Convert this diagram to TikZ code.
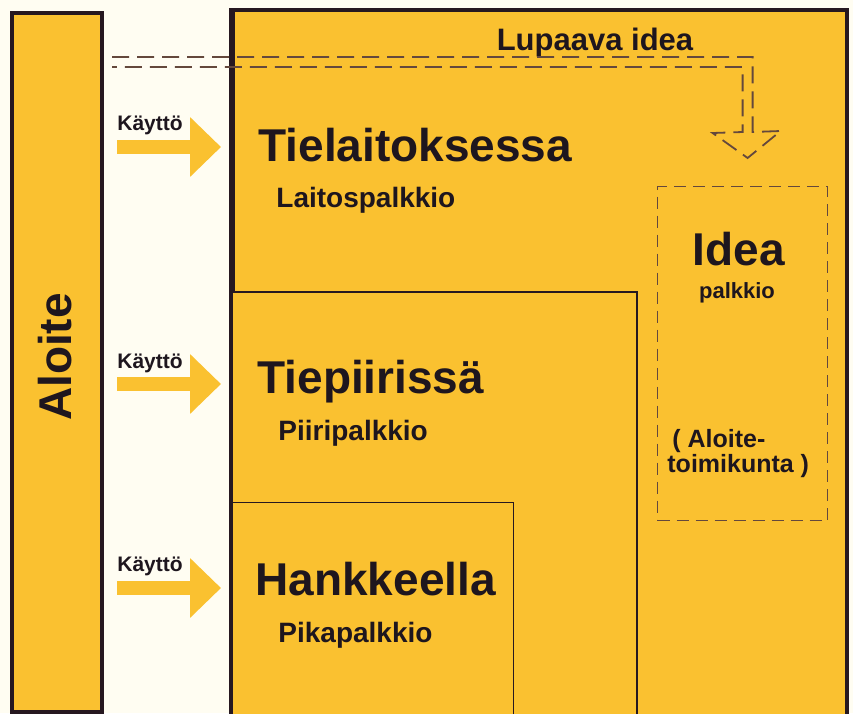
\documentclass[tikz,border=0pt]{standalone}
\usepackage{fontspec}
\setmainfont{Liberation Sans}
\usetikzlibrary{arrows.meta, calc}

% colori
\definecolor{giallo}{RGB}{250,193,48}
\definecolor{fondo}{RGB}{255,253,242}
\definecolor{bordo}{RGB}{38,24,32}
\definecolor{testo}{RGB}{30,22,30}
\definecolor{tratteggio}{RGB}{100,72,60}

\begin{document}
\begin{tikzpicture}[x=1pt, y=-1pt, >=latex, thick,
		riquadro/.style={draw=bordo, fill=giallo, anchor=north west, inner sep=0pt},
		titolo/.style={font=\bfseries\fontsize{46}{50}\selectfont, text=testo, anchor=base west, inner sep=0pt},
		premio/.style={font=\bfseries\fontsize{28}{31}\selectfont, text=testo, anchor=base west, inner sep=0pt},
		piccolo/.style={font=\bfseries\fontsize{22}{24}\selectfont, text=testo, inner sep=0pt},
		uso/.style={font=\bfseries\fontsize{21}{23}\selectfont, text=testo, anchor=base west, inner sep=0pt},
		freccia/.style={giallo, line width=14pt, -{Triangle[length=31pt, width=58pt]}},
		doppia/.style={tratteggio, line width=1.8pt, dash pattern=on 17pt off 8pt}]
			
			% --- Sfondo ---
			\clip (0,0) rectangle (853,713);
			\fill[fondo] (0,0) rectangle (853,713);
			
			% --- Riquadri ---
			\node[riquadro, line width=4pt, minimum width=90pt, minimum height=699pt] (aloite) at (10,11) {};
			\node[riquadro, line width=4pt, minimum width=614pt, minimum height=730pt] (laitos) at (231,8) {};
			\node[riquadro, line width=2pt, minimum width=405pt, minimum height=440pt] (piiri) at (231,291) {};
			\node[riquadro, line width=1.3pt, minimum width=282pt, minimum height=230pt] (hanke) at (231,502) {};
			\node[riquadro, draw=tratteggio, line width=1.2pt, dash pattern=on 12pt off 7pt,
				minimum width=170pt, minimum height=334pt] (idea) at (657,186) {};
			\draw[bordo, line width=4pt] (laitos.north west) -- (laitos.south west);
			
			% --- Etichette ---
			\node[titolo, anchor=center, rotate=90] (aloiteteksti) at (55,357) {Aloite};
			
			\node[titolo] (laitosnimi) at (258,161) {Tielaitoksessa};
			\node[premio] (laitospalkkio) at (276,207) {Laitospalkkio};
			\node[titolo] (piirinimi) at (257,393) {Tiepiirissä};
			\node[premio] (piiripalkkio) at (278,440) {Piiripalkkio};
			\node[titolo] (hankenimi) at (255,595) {Hankkeella};
			\node[premio] (pikapalkkio) at (278,642) {Pikapalkkio};
			
			\node[titolo, anchor=base] (ideanimi) at (739,265) {Idea};
			\node[piccolo, anchor=base] (ideapalkkio) at (737,298) {palkkio};
			\node[piccolo, font=\bfseries\fontsize{25}{27}\selectfont, anchor=base west] (toimikunta1) at (672,447) {( Aloite-};
			\node[piccolo, font=\bfseries\fontsize{25}{27}\selectfont, anchor=base west] (toimikunta2) at (667,472) {toimikunta )};
			
			\node[font=\bfseries\fontsize{31}{34}\selectfont, text=testo, anchor=base, inner sep=0pt] (lupaava) at (595,50) {Lupaava idea};
			
			% --- Frecce ---
			\coordinate (k1) at (0,147);
			\coordinate (k2) at (0,384);
			\coordinate (k3) at (0,588);
			\foreach \k/\t in {k1/130, k2/368, k3/571}{
				\draw[freccia] ($(aloite.east |- \k)+(13,0)$) -- ($(laitos.west |- \k)+(-10,0)$);
				\node[uso] at (117,\t) {Käyttö};
			}
			
			% --- Lupaava idea ---
			\coordinate (alku) at (112,57);
			\coordinate (punta) at ($(idea.north)+(5,-28)$);
			\draw[doppia] (alku) -| ($(punta)+(5,-26)$) -- ++(28,-1) -- (punta)
				-- ++(-35,-25) -- ++(30,-1) |- ($(alku)+(0,10)$);
		\end{tikzpicture}
\end{document}
